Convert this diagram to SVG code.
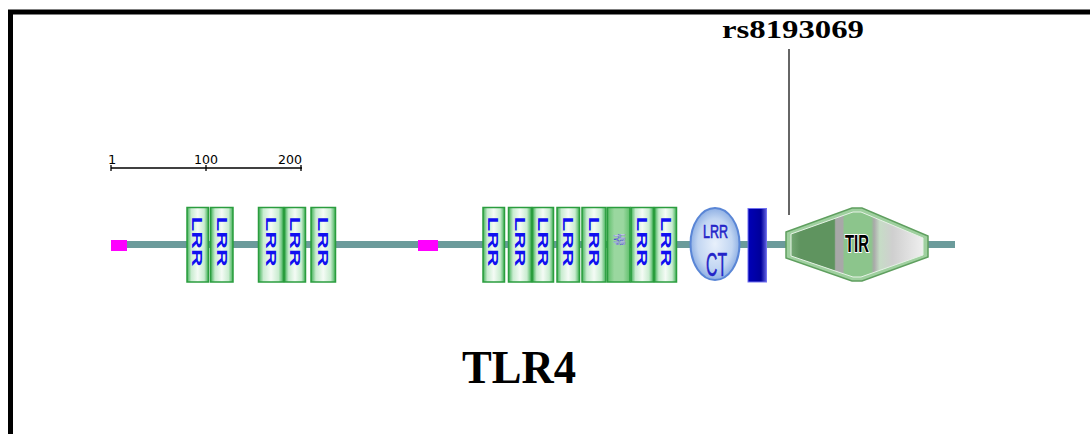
<svg xmlns="http://www.w3.org/2000/svg" width="1090" height="434" viewBox="0 0 1090 434">
<style>
  .lrr rect { stroke: #2a9d3e; stroke-width: 1.5; }
  .lrrtxt { font-family: "Liberation Sans", Arial, sans-serif; font-weight: bold; font-size: 14px; fill: #1010f0; }
  .ruler { font-family: "DejaVu Sans", sans-serif; font-size: 13px; fill: #000; }
  .serif { font-family: "Liberation Serif", "Times New Roman", serif; font-weight: bold; fill: #000; }
  .ct { font-family: "Liberation Sans", Arial, sans-serif; fill: #2424c8; stroke: #2424c8; stroke-width: 0.6; }
</style>
<defs>
  <linearGradient id="gLRR" x1="0" y1="0" x2="1" y2="0">
    <stop offset="0" stop-color="#3fb055"/>
    <stop offset="0.2" stop-color="#c9ecd0"/>
    <stop offset="0.5" stop-color="#f4fbf5"/>
    <stop offset="0.8" stop-color="#c9ecd0"/>
    <stop offset="1" stop-color="#3fb055"/>
  </linearGradient>
  <linearGradient id="gTYP" x1="0" y1="0" x2="1" y2="0">
    <stop offset="0" stop-color="#5fbf6b"/>
    <stop offset="0.3" stop-color="#9ad79f"/>
    <stop offset="0.7" stop-color="#9ad79f"/>
    <stop offset="1" stop-color="#5fbf6b"/>
  </linearGradient>
  <radialGradient id="gCT" cx="0.5" cy="0.5" r="0.5">
    <stop offset="0" stop-color="#e8f0fb"/>
    <stop offset="0.7" stop-color="#c2d6f2"/>
    <stop offset="1" stop-color="#8fb0e4"/>
  </radialGradient>
  <linearGradient id="gTM" x1="0" y1="0" x2="1" y2="0">
    <stop offset="0" stop-color="#0000b8"/>
    <stop offset="0.7" stop-color="#00009a"/>
    <stop offset="1" stop-color="#6060e0"/>
  </linearGradient>
  <linearGradient id="gTIR" x1="786" y1="0" x2="928" y2="0" gradientUnits="userSpaceOnUse">
    <stop offset="0" stop-color="#7fb37f"/>
    <stop offset="0.1" stop-color="#5f945f"/>
    <stop offset="0.34" stop-color="#5f945f"/>
    <stop offset="0.35" stop-color="#a8a8a8"/>
    <stop offset="0.4" stop-color="#a8a8a8"/>
    <stop offset="0.41" stop-color="#8cc58c"/>
    <stop offset="0.6" stop-color="#8cc58c"/>
    <stop offset="0.62" stop-color="#a9a9a9"/>
    <stop offset="0.66" stop-color="#c6dcc6"/>
    <stop offset="0.75" stop-color="#cfcfcf"/>
    <stop offset="1" stop-color="#f4f4f4"/>
  </linearGradient>
</defs>

<rect id="frame" x="10.5" y="12" width="1100" height="440" fill="none" stroke="#000" stroke-width="5"/>

<g id="title" class="serif">
  <text x="462" y="383" font-size="46" textLength="114" lengthAdjust="spacingAndGlyphs">TLR4</text>
</g>

<g id="ruler">
  <line x1="111" y1="168" x2="302" y2="168" stroke="#000" stroke-width="1.3"/>
  <line x1="111" y1="165" x2="111" y2="171" stroke="#000" stroke-width="1.3"/>
  <line x1="206" y1="165" x2="206" y2="171" stroke="#000" stroke-width="1.3"/>
  <line x1="301" y1="165" x2="301" y2="171" stroke="#000" stroke-width="1.3"/>
  <text class="ruler" x="108" y="164">1</text>
  <text class="ruler" x="194" y="164" textLength="24" lengthAdjust="spacingAndGlyphs">100</text>
  <text class="ruler" x="278" y="164" textLength="24" lengthAdjust="spacingAndGlyphs">200</text>
</g>

<g id="connectors">
  <line id="backbone" x1="111" y1="244.5" x2="955" y2="244.5" stroke="#6b9b9b" stroke-width="7"/>
  <line id="snp-line" x1="789" y1="49" x2="789" y2="215" stroke="#333" stroke-width="1.5"/>
</g>

<g id="signal1"><rect x="111" y="240" width="16" height="11" fill="#ff00ff"/></g>
<g id="signal2"><rect x="418" y="240" width="20" height="11" fill="#ff00ff"/></g>

<g id="lrr-group1" class="lrr">
  <g id="lrr1"><rect x="187" y="207.5" width="21.5" height="74.5" fill="url(#gLRR)"/><text class="lrrtxt" transform="translate(192,216.5) rotate(90)" textLength="50" lengthAdjust="spacingAndGlyphs">LRR</text></g>
  <g id="lrr2"><rect x="210.5" y="207.5" width="22.5" height="74.5" fill="url(#gLRR)"/><text class="lrrtxt" transform="translate(216.5,216.5) rotate(90)" textLength="50" lengthAdjust="spacingAndGlyphs">LRR</text></g>
  <g id="lrr3"><rect x="258.5" y="207.5" width="25" height="74.5" fill="url(#gLRR)"/><text class="lrrtxt" transform="translate(266,216.5) rotate(90)" textLength="50" lengthAdjust="spacingAndGlyphs">LRR</text></g>
  <g id="lrr4"><rect x="284.5" y="207.5" width="21" height="74.5" fill="url(#gLRR)"/><text class="lrrtxt" transform="translate(290,216.5) rotate(90)" textLength="50" lengthAdjust="spacingAndGlyphs">LRR</text></g>
  <g id="lrr5"><rect x="311" y="207.5" width="24.5" height="74.5" fill="url(#gLRR)"/><text class="lrrtxt" transform="translate(318,216.5) rotate(90)" textLength="50" lengthAdjust="spacingAndGlyphs">LRR</text></g>
</g>

<g id="lrr-group2" class="lrr">
  <g id="lrr6"><rect x="483" y="207.5" width="21.5" height="74.5" fill="url(#gLRR)"/><text class="lrrtxt" transform="translate(488,216.5) rotate(90)" textLength="50" lengthAdjust="spacingAndGlyphs">LRR</text></g>
  <g id="lrr7"><rect x="508.5" y="207.5" width="23" height="74.5" fill="url(#gLRR)"/><text class="lrrtxt" transform="translate(514.5,216.5) rotate(90)" textLength="50" lengthAdjust="spacingAndGlyphs">LRR</text></g>
  <g id="lrr8"><rect x="532.5" y="207.5" width="21" height="74.5" fill="url(#gLRR)"/><text class="lrrtxt" transform="translate(538,216.5) rotate(90)" textLength="50" lengthAdjust="spacingAndGlyphs">LRR</text></g>
  <g id="lrr9"><rect x="557" y="207.5" width="22.5" height="74.5" fill="url(#gLRR)"/><text class="lrrtxt" transform="translate(563,216.5) rotate(90)" textLength="50" lengthAdjust="spacingAndGlyphs">LRR</text></g>
  <g id="lrr10"><rect x="582" y="207.5" width="24" height="74.5" fill="url(#gLRR)"/><text class="lrrtxt" transform="translate(588.5,216.5) rotate(90)" textLength="50" lengthAdjust="spacingAndGlyphs">LRR</text></g>
  <g id="lrr-typ"><rect x="607.5" y="207.5" width="22.5" height="74.5" fill="url(#gTYP)"/>
    <text transform="translate(620,234) rotate(90)" font-family="Liberation Sans, Arial, sans-serif" font-size="6.5" font-weight="bold" fill="#ffffff" stroke="#3030c0" stroke-width="0.4" textLength="11" lengthAdjust="spacingAndGlyphs">LRR</text>
    <text transform="translate(614,234) rotate(90)" font-family="Liberation Sans, Arial, sans-serif" font-size="6.5" font-weight="bold" fill="#ffffff" stroke="#3030c0" stroke-width="0.4" textLength="11" lengthAdjust="spacingAndGlyphs">TYP</text>
  </g>
  <g id="lrr11"><rect x="631" y="207.5" width="22.5" height="74.5" fill="url(#gLRR)"/><text class="lrrtxt" transform="translate(637,216.5) rotate(90)" textLength="50" lengthAdjust="spacingAndGlyphs">LRR</text></g>
  <g id="lrr12"><rect x="654.5" y="207.5" width="22" height="74.5" fill="url(#gLRR)"/><text class="lrrtxt" transform="translate(660.5,216.5) rotate(90)" textLength="50" lengthAdjust="spacingAndGlyphs">LRR</text></g>
</g>

<g id="lrr-ct">
  <ellipse cx="715" cy="244" rx="24.5" ry="36" fill="url(#gCT)" stroke="#5a86d6" stroke-width="2"/>
  <text class="ct" x="703" y="238" font-size="19" textLength="25" lengthAdjust="spacingAndGlyphs">LRR</text>
  <text class="ct" x="706" y="276" font-size="34" textLength="21" lengthAdjust="spacingAndGlyphs">CT</text>
</g>

<g id="transmembrane">
  <rect x="748" y="208.5" width="18.5" height="73.5" fill="url(#gTM)" stroke="#7070f0" stroke-width="1"/>
</g>

<g id="tir">
  <polygon points="786,232 852,208 862,208 928,236 928,257 862,281 852,281 786,258" fill="#9fd09f" stroke="#5f9f5f" stroke-width="1.5"/>
  <polygon points="791,234 853,212 861,212 923,238 923,255 861,277 853,277 791,256" fill="url(#gTIR)" stroke="#e6f2e6" stroke-width="1"/>
  <text x="845" y="252" font-family="Liberation Sans, Arial, sans-serif" font-weight="bold" font-size="23" fill="#000" stroke="#ffffff" stroke-width="2" paint-order="stroke" textLength="24" lengthAdjust="spacingAndGlyphs">TIR</text>
</g>

<g id="snp-label" class="serif">
  <text x="722" y="38" font-size="26" textLength="142" lengthAdjust="spacingAndGlyphs">rs8193069</text>
</g>
</svg>
